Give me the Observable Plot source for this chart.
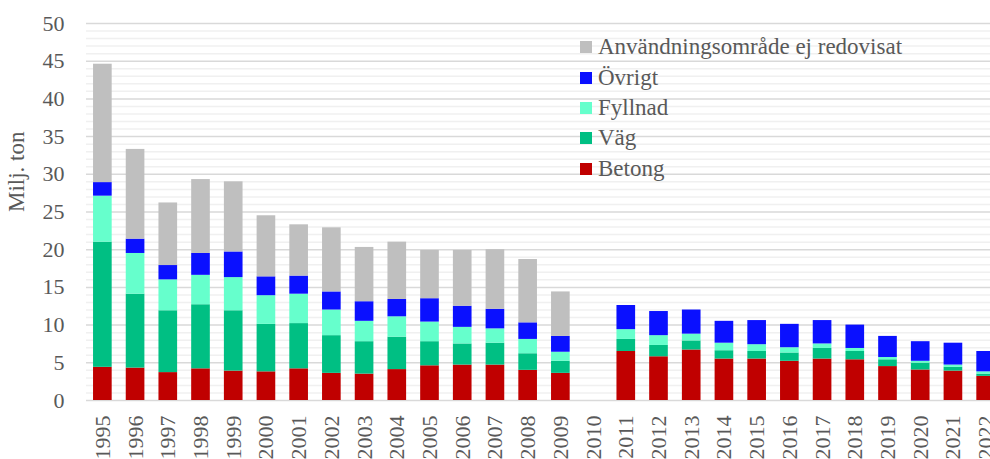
<!DOCTYPE html>
<html>
<head>
<meta charset="utf-8">
<script src="https://cdn.jsdelivr.net/npm/d3@7"></script>
<script src="https://cdn.jsdelivr.net/npm/@observablehq/plot@0.6"></script>
<style>
  html, body { margin: 0; padding: 0; background: #fff; overflow: hidden; }
  #wrap { position: relative; width: 990px; height: 459px; overflow: hidden; }
  #chart svg { max-width: none !important; height: 459px !important; display: block; }
  #legend { position: absolute; left: 580px; top: 32px; font-family: "Liberation Serif", "Times New Roman", serif; font-size: 23px; color: #595959; }
  #legend .row { display: flex; align-items: center; height: 30.4px; white-space: nowrap; }
  #legend .sw { width: 12px; height: 12px; margin-right: 6px; flex: none; }
</style>
</head>
<body>
<div id="wrap"><div id="chart"></div><div id="legend"></div></div>
<script>
const years = ["1995","1996","1997","1998","1999","2000","2001","2002","2003","2004","2005","2006","2007","2008","2009","2010","2011","2012","2013","2014","2015","2016","2017","2018","2019","2020","2021","2022"];
const betong  = [4.4,4.3,3.7,4.2,3.9,3.8,4.2,3.6,3.5,4.1,4.6,4.7,4.7,4.0,3.6,null,6.5,5.8,6.7,5.5,5.5,5.2,5.5,5.4,4.5,4.05,3.9,3.2];
const vag     = [16.6,9.8,8.2,8.5,8.0,6.3,6.0,5.0,4.3,4.3,3.2,2.8,2.9,2.2,1.6,null,1.6,1.5,1.2,1.1,1.0,1.1,1.4,1.1,0.9,0.9,0.5,0.3];
const fyllnad = [6.1,5.4,4.1,3.9,4.4,3.8,3.9,3.4,2.7,2.7,2.6,2.2,1.9,1.9,1.2,null,1.3,1.3,0.9,1.0,0.9,0.7,0.6,0.4,0.3,0.25,0.3,0.3];
const ovrigt  = [1.8,1.9,1.9,2.9,3.4,2.5,2.4,2.4,2.6,2.3,3.1,2.8,2.6,2.2,2.1,null,3.2,3.2,3.2,2.9,3.2,3.1,3.1,3.1,2.8,2.6,2.9,2.7];
const ejRedovisat = [15.7,11.9,8.3,9.8,9.3,8.1,6.8,8.5,7.2,7.6,6.4,7.4,7.9,8.4,5.9,null,0,0,0,0,0,0,0,0,0,0,0,0];
const seriesNames = ["Betong","Väg","Fyllnad","Övrigt","Användningsområde ej redovisat"];
const seriesColors = ["#C00000","#00BF83","#66FFCC","#0A10FF","#BFBFBF"];
const seriesValues = [betong, vag, fyllnad, ovrigt, ejRedovisat];
const yTicks = d3.range(0, 51, 5);
const yMinor = d3.range(0, 51).filter(v => v % 5 !== 0);
const yTitle = "Milj. ton";

const rows = [];
seriesNames.forEach((s, si) => {
  years.forEach((yr, i) => {
    const v = seriesValues[si][i];
    if (v != null && v > 0) rows.push({year: yr, series: s, value: v});
  });
});

const font = '"Liberation Serif", "Times New Roman", serif';
const chart = Plot.plot({
  width: 1002,
  height: 459,
  marginTop: 23,
  marginBottom: 59,
  marginLeft: 86,
  marginRight: 0,
  style: {fontFamily: font, fontSize: "22px", color: "#595959", background: "white", overflow: "visible", maxWidth: "none"},
  x: {domain: years, paddingInner: 0.43, paddingOuter: 0.215, round: false, label: null},
  y: {domain: [0, 50], label: null},
  color: {domain: seriesNames, range: seriesColors},
  marks: [
    Plot.ruleY(yMinor, {stroke: "#f0f0f0", strokeWidth: 1.5}),
    Plot.ruleY(yTicks, {stroke: "#d9d9d9", strokeWidth: 1.5}),
    Plot.barY(rows, {x: "year", y: "value", fill: "series", order: seriesNames}),
    Plot.axisY({ticks: yTicks, tickSize: 0, tickPadding: 22, fill: "#595959", fontSize: 22, label: null}),
    Plot.axisX({tickSize: 0, tickRotate: -90, tickPadding: 15, fill: "#595959", fontSize: 22, label: null}),
    Plot.text([yTitle], {frameAnchor: "left", rotate: -90, lineAnchor: "top", dx: -79, fontSize: 23, fill: "#595959"})
  ]
});
document.getElementById("chart").appendChild(chart);

const legend = document.getElementById("legend");
seriesNames.slice().reverse().forEach((s) => {
  const c = seriesColors[seriesNames.indexOf(s)];
  const row = document.createElement("div");
  row.className = "row";
  row.innerHTML = `<span class="sw" style="background:${c}"></span><span>${s}</span>`;
  legend.appendChild(row);
});
</script>
</body>
</html>
